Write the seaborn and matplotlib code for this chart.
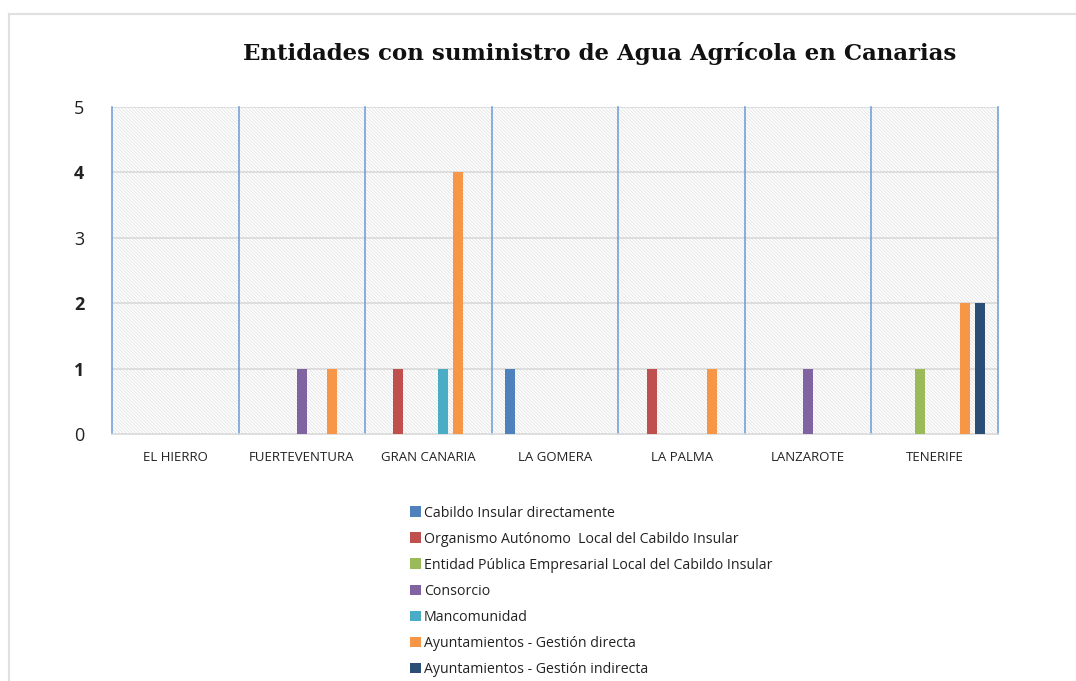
import numpy as np
import pandas as pd
import matplotlib.pyplot as plt
import seaborn as sns
from matplotlib.patches import Rectangle
from matplotlib.lines import Line2D

# --- Data ---
islas = ["EL HIERRO", "FUERTEVENTURA", "GRAN CANARIA", "LA GOMERA",
         "LA PALMA", "LANZAROTE", "TENERIFE"]
tipos = ["Cabildo Insular directamente",
         "Organismo Autónomo  Local del Cabildo Insular",
         "Entidad Pública Empresarial Local del Cabildo Insular",
         "Consorcio",
         "Mancomunidad",
         "Ayuntamientos - Gestión directa",
         "Ayuntamientos - Gestión indirecta"]
cabildo = [0, 0, 0, 1, 0, 0, 0]
organismo = [0, 0, 1, 0, 1, 0, 0]
entidad = [0, 0, 0, 0, 0, 0, 1]
consorcio = [0, 1, 0, 0, 0, 1, 0]
mancomunidad = [0, 0, 1, 0, 0, 0, 0]
ayto_directa = [0, 1, 4, 0, 1, 0, 2]
ayto_indirecta = [0, 0, 0, 0, 0, 0, 2]
colores = ["#4F81BD", "#C0504D", "#9BBB59", "#8064A2",
           "#4BACC6", "#F79646", "#2C4D75"]

series = [cabildo, organismo, entidad, consorcio, mancomunidad,
          ayto_directa, ayto_indirecta]
df = pd.DataFrame({
    "isla": islas * len(tipos),
    "tipo": np.repeat(tipos, len(islas)),
    "valor": np.concatenate(series),
})

plt.rcParams['hatch.linewidth'] = 0.5
fig = plt.figure(figsize=(10.76, 6.81), dpi=100)
ax = fig.add_axes([0.1041, 0.3627, 0.8234, 0.4802])

# hatched background
ax.add_patch(Rectangle((0, 0), 1, 1, transform=ax.transAxes, facecolor="white",
                       edgecolor="#dedede", hatch="\\" * 10, linewidth=0, zorder=0))

sns.barplot(data=df, x="isla", y="valor", hue="tipo", hue_order=tipos,
            palette=colores, saturation=1, width=0.83, gap=0.33, linewidth=0,
            ax=ax, zorder=3)

ax.set_xlim(-0.5, len(islas) - 0.5)
ax.set_ylim(0, 5)
ax.set_yticks(range(6))
ax.set_xlabel("")
ax.set_ylabel("")

for y in range(1, 6):
    ax.axhline(y, color="#d9d9d9", lw=1.2, zorder=1)
for x in np.arange(-0.5, len(islas), 1.0):
    ax.axvline(x, color="#6A9AD8", lw=1.1, zorder=2, clip_on=False)

for s in ax.spines.values():
    s.set_visible(False)
ax.spines["bottom"].set_visible(True)
ax.spines["bottom"].set_color("#d9d9d9")
ax.spines["bottom"].set_linewidth(1.2)
ax.tick_params(length=0)
ax.tick_params(axis="x", pad=12, labelsize=9.5, labelcolor="#222222")
ax.tick_params(axis="y", pad=20, labelsize=13, labelcolor="#222222")
for lab in ax.get_xticklabels():
    lab.set_fontfamily("Open Sans")
for lab in ax.get_yticklabels():
    lab.set_fontfamily("Open Sans")
    if lab.get_text() in ("1", "2", "4"):
        lab.set_fontweight("bold")

handles, labels = ax.get_legend_handles_labels()
ax.get_legend().remove()
fig.legend(handles, labels, loc="upper left", bbox_to_anchor=(0.376, 0.266),
           frameon=False, handlelength=0.75, handleheight=0.75,
           handletextpad=0.2, labelspacing=0.78, borderaxespad=0,
           prop={"family": "Open Sans", "size": 10.2}, labelcolor="#222222")

fig.text(0.5576, 0.922, "Entidades con suministro de Agua Agrícola en Canarias",
         ha="center", va="center", fontsize=16.5, fontweight="bold",
         family="DejaVu Serif", color="#111111")

# outer frame (light gray, top and left)
fig.add_artist(Line2D([9 / 1076, 1], [1 - 14 / 681, 1 - 14 / 681],
                      transform=fig.transFigure, color="#e0e0e0", lw=1.5))
fig.add_artist(Line2D([9 / 1076, 9 / 1076], [0, 1 - 14 / 681],
                      transform=fig.transFigure, color="#e0e0e0", lw=1.5))

fig.savefig("out.png", dpi=100)
